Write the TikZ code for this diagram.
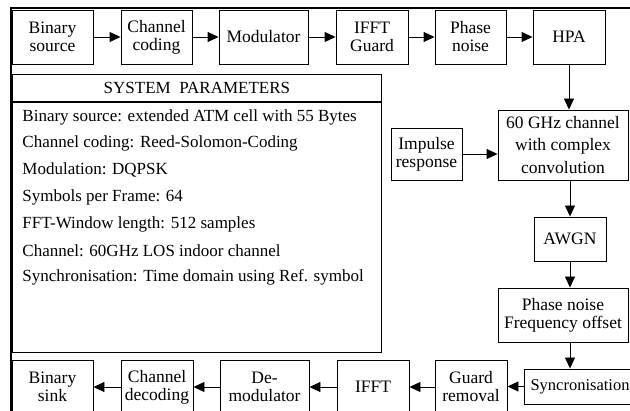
\documentclass[tikz,border=0pt]{standalone}
\usepackage{fontspec}
\setmainfont{Liberation Serif}
\usetikzlibrary{arrows.meta}

\begin{document}
\begin{tikzpicture}[x=1pt, y=-1pt, line width=0.9pt,
    blk/.style={draw, rectangle, align=center, inner sep=2pt, minimum height=54, font=\fontsize{17.5}{18}\selectfont},
    ptxt/.style={anchor=west, inner sep=2pt, font=\fontsize{17}{18}\selectfont},
    arr/.style={-{Triangle[length=11pt,width=10pt]}}]
    \useasboundingbox (0,0) rectangle (630,411);
    \clip (0,0) rectangle (630,411);
    % frame of the page
    \draw[line width=2pt] (10.5,411) -- (10.5,8) -- (630,8);

    % transmitter
    \node (src) [blk, minimum width=81] at (52.5,37) {Binary\\source};
    \node (cod) [blk, minimum width=71] at (156.5,37) {Channel\\coding};
    \node (mod) [blk, minimum width=89] at (263.5,37) {Modulator};
    \node (ifg) [blk, minimum width=72] at (372,37) {IFFT\\Guard};
    \node (phn) [blk, minimum width=71] at (470.5,37) {Phase\\noise};
    \node (hpa) [blk, minimum width=72] at (569,37) {HPA};

    % channel
    \node (chan) [blk, minimum width=130, minimum height=70, font=\fontsize{17.5}{22.5}\selectfont] at (563,145) {60 GHz channel\\with complex\\convolution};
    \node (imp) [blk, minimum width=71, minimum height=52] at (426.5,154) {Impulse\\response};
    \node (awgn) [blk, minimum width=72, minimum height=44] at (570,239) {AWGN};
    \node (pnf) [blk, minimum width=130] at (563,315) {Phase noise\\Frequency offset};

    % receiver
    \node (syn) [blk, minimum width=112, minimum height=35, font=\fontsize{16.5}{18}\selectfont] at (580,386.5) {Syncronisation};
    \node (grd) [blk, minimum width=72] at (471,387) {Guard\\removal};
    \node (ifb) [blk, minimum width=72] at (373,387) {IFFT};
    \node (dem) [blk, minimum width=89] at (264.5,387) {De-\\modulator};
    \node (dec) [blk, minimum width=72] at (157,387) {Channel\\decoding};
    \node (snk) [blk, minimum width=81] at (52.5,387) {Binary\\sink};

    % parameters
    \node (hdr) [draw, anchor=north west, minimum width=369, minimum height=27, font=\fontsize{17}{18}\selectfont] at (12,74) {SYSTEM\ \ PARAMETERS};
    \node (par) [draw, anchor=north west, minimum width=369, minimum height=250] at (hdr.south west) {};
    \node (p1) [ptxt] at (20,117) {Binary source: extended ATM cell with 55 Bytes};
    \node (p2) [ptxt] at (20,143.5) {Channel coding: Reed-Solomon-Coding};
    \node (p3) [ptxt] at (20,170) {Modulation: DQPSK};
    \node (p4) [ptxt] at (20,197) {Symbols per Frame: 64};
    \node (p5) [ptxt] at (20,224) {FFT-Window length: 512 samples};
    \node (p6) [ptxt] at (20,251) {Channel: 60GHz LOS indoor channel};
    \node (p7) [ptxt] at (20,277) {Synchronisation: Time domain using Ref. symbol};

    \draw[arr] (src) -- (cod);
    \draw[arr] (cod) -- (mod);
    \draw[arr] (mod) -- (ifg);
    \draw[arr] (ifg) -- (phn);
    \draw[arr] (phn) -- (hpa);
    \draw[arr] (hpa.south) -- (hpa.south |- chan.north);
    \draw[arr] (imp.east) -- (imp.east -| chan.west);
    \draw[arr] (awgn.north |- chan.south) -- (awgn.north);
    \draw[arr] (awgn.south) -- (awgn.south |- pnf.north);
    \draw[arr] (awgn.south |- pnf.south) -- (awgn.south |- syn.north);
    \draw[arr] (syn.west) -- (syn.west -| grd.east);
    \draw[arr] (grd) -- (ifb);
    \draw[arr] (ifb) -- (dem);
    \draw[arr] (dem) -- (dec);
    \draw[arr] (dec) -- (snk);
\end{tikzpicture}
\end{document}
